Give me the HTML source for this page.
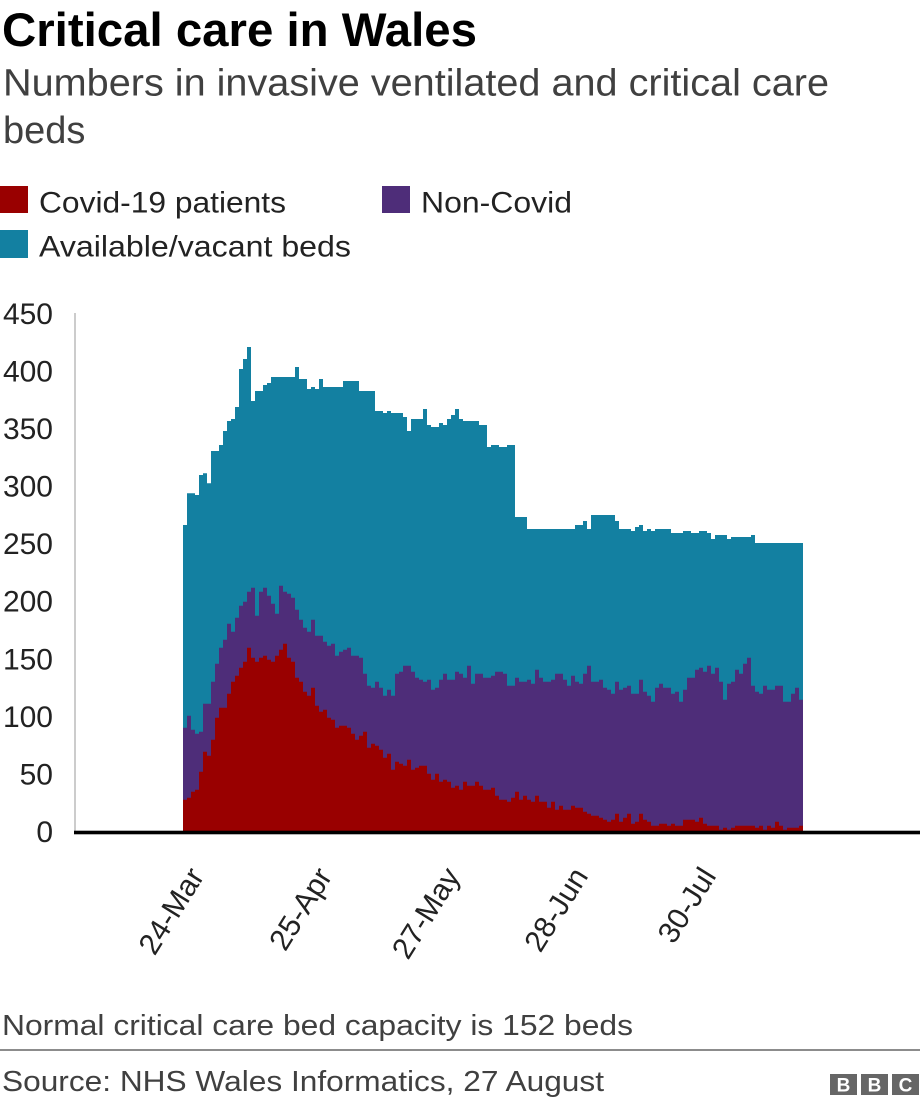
<!DOCTYPE html>
<html>
<head>
<meta charset="utf-8">
<style>
  html,body{margin:0;padding:0;background:#fff;}
  svg{display:block;}
  text{font-family:"Liberation Sans", Arial, sans-serif;}
</style>
</head>
<body>
<svg width="920" height="1106" viewBox="0 0 920 1106" xmlns="http://www.w3.org/2000/svg">
  <rect x="0" y="0" width="920" height="1106" fill="#ffffff"/>

  <!-- Title & subtitle -->
  <text x="2" y="46" font-size="47" font-weight="bold" fill="#000" textLength="475" lengthAdjust="spacingAndGlyphs">Critical care in Wales</text>
  <text x="3" y="95.5" font-size="38" fill="#404040" textLength="826" lengthAdjust="spacingAndGlyphs">Numbers in invasive ventilated and critical care</text>
  <text x="3" y="143" font-size="38" fill="#404040">beds</text>

  <!-- Legend -->
  <rect x="0" y="186" width="28" height="27" fill="#990000"/>
  <text x="39" y="212.5" font-size="30" fill="#222" textLength="247" lengthAdjust="spacingAndGlyphs">Covid-19 patients</text>
  <rect x="382" y="186" width="28" height="27" fill="#4e2d79"/>
  <text x="421" y="212.5" font-size="30" fill="#222" textLength="151" lengthAdjust="spacingAndGlyphs">Non-Covid</text>
  <rect x="0" y="230" width="28" height="28" fill="#1380a1"/>
  <text x="39" y="256.7" font-size="30" fill="#222" textLength="312" lengthAdjust="spacingAndGlyphs">Available/vacant beds</text>

  <!-- Y axis labels -->
  <g font-size="30" fill="#222" text-anchor="end">
    <text x="53" y="842">0</text>
    <text x="53" y="784.4">50</text>
    <text x="53" y="726.8">100</text>
    <text x="53" y="669.3">150</text>
    <text x="53" y="611.7">200</text>
    <text x="53" y="554.1">250</text>
    <text x="53" y="496.5">300</text>
    <text x="53" y="438.9">350</text>
    <text x="53" y="381.4">400</text>
    <text x="53" y="323.8">450</text>
  </g>

  <!-- vertical axis line -->
  <rect x="74" y="313" width="2" height="518" fill="#cccccc"/>

  <!-- Teal: total -->
  <path fill="#1380a1" d="M183,831 V525 H187 V493.3 H191 V493.3 H195 V495 H199 V475 H203 V473.3 H207 V483.3 H211 V451 H215 V451 H219 V445 H223 V431 H227 V421 H231 V419 H235 V407 H239 V369 H243 V359 H247 V347 H251 V401 H255 V391 H259 V391 H263 V385 H267 V383 H271 V377 H295 V367 H299 V379 H303 V379 H307 V389 H311 V387 H315 V389 H319 V379 H323 V387 H343 V381 H359 V391 H375 V411 H383 V413 H387 V411 H391 V413 H403 V417 H407 V431 H411 V419 H423 V409 H427 V425 H431 V427 H439 V423 H443 V425 H447 V419 H451 V415 H455 V409 H459 V419 H463 V421 H479 V425 H487 V447 H491 V445 H499 V447 H507 V445 H515 V517 H527 V529 H575 V525 H583 V521 H587 V529 H591 V515 H615 V521 H619 V529 H631 V531 H635 V527 H639 V525 H643 V531 H647 V529 H651 V531 H655 V529 H671 V533 H683 V531 H691 V533 H699 V531 H707 V533 H711 V539 H715 V535 H727 V539 H731 V537 H751 V535 H755 V543 H803 V831 Z"/>

  <!-- Purple: non-covid + covid -->
  <path fill="#4e2d79" d="M183,831 V727.7 H187 V715.7 H191 V729.7 H195 V733.7 H199 V731.7 H203 V703.7 H211 V681.7 H215 V663.7 H219 V647.7 H223 V639.7 H227 V623.7 H231 V631.7 H235 V617.7 H239 V605.7 H243 V601.7 H247 V591.7 H251 V587.7 H255 V615.7 H259 V591.7 H263 V587.7 H267 V595.7 H271 V603.7 H275 V613.7 H279 V585.7 H283 V591.7 H287 V593.7 H291 V597.7 H295 V609.7 H299 V619.7 H303 V627.7 H307 V631.7 H311 V619.7 H315 V635.7 H323 V641.7 H327 V645.7 H331 V643.7 H335 V655.7 H339 V651.7 H343 V649.7 H347 V647.7 H351 V655.7 H359 V657.7 H363 V673.7 H367 V685.7 H371 V687.7 H375 V681.7 H379 V687.7 H383 V695.7 H387 V689.7 H391 V695.7 H395 V673.7 H399 V671.7 H403 V665.7 H411 V671.7 H415 V677.7 H419 V679.7 H423 V681.7 H427 V679.7 H431 V689.7 H435 V687.7 H439 V679.7 H443 V673.7 H447 V679.7 H455 V671.7 H459 V673.7 H463 V677.7 H467 V665.7 H471 V683.7 H475 V673.7 H483 V677.7 H491 V675.7 H495 V671.7 H503 V673.7 H507 V685.7 H515 V677.7 H519 V681.7 H527 V679.7 H531 V683.7 H535 V669.7 H539 V677.7 H543 V681.7 H551 V679.7 H555 V673.7 H563 V679.7 H567 V685.7 H571 V675.7 H575 V681.7 H579 V683.7 H583 V673.7 H587 V665.7 H591 V681.7 H599 V679.7 H603 V687.7 H607 V689.7 H611 V693.7 H615 V681.7 H619 V689.7 H623 V687.7 H627 V685.7 H631 V693.7 H639 V679.7 H643 V691.7 H647 V695.7 H651 V701.7 H655 V687.7 H659 V683.7 H663 V687.7 H671 V693.7 H675 V691.7 H679 V701.7 H683 V689.7 H687 V677.7 H695 V669.7 H699 V667.7 H703 V671.7 H707 V665.7 H711 V673.7 H715 V667.7 H719 V681.7 H723 V699.7 H727 V683.7 H731 V681.7 H735 V669.7 H739 V673.7 H743 V663.7 H747 V657.7 H751 V685.7 H755 V691.7 H759 V693.7 H763 V685.7 H767 V689.7 H775 V685.7 H783 V701.7 H791 V693.7 H795 V687.7 H799 V699.7 H803 V831 Z"/>

  <!-- Red: covid -->
  <path fill="#990000" d="M183,831 V799.7 H187 V797.7 H191 V791.7 H195 V789.7 H199 V771.7 H203 V751.7 H207 V755.7 H211 V739.7 H215 V717.7 H219 V707.7 H227 V693.7 H231 V681.7 H235 V675.7 H239 V667.7 H243 V661.7 H247 V647.7 H251 V657.7 H255 V661.7 H259 V657.7 H263 V655.7 H267 V659.7 H271 V661.7 H275 V655.7 H279 V649.7 H283 V643.7 H287 V657.7 H291 V661.7 H295 V677.7 H299 V681.7 H303 V691.7 H307 V695.7 H311 V687.7 H315 V705.7 H319 V711.7 H323 V709.7 H327 V717.7 H331 V719.7 H335 V727.7 H339 V725.7 H347 V727.7 H351 V733.7 H355 V739.7 H359 V735.7 H363 V731.7 H367 V747.7 H371 V743.7 H375 V745.7 H379 V749.7 H383 V757.7 H387 V753.7 H391 V769.7 H395 V761.7 H399 V763.7 H403 V765.7 H407 V759.7 H411 V769.7 H415 V767.7 H419 V765.7 H427 V773.7 H431 V779.7 H435 V773.7 H439 V781.7 H443 V779.7 H447 V781.7 H451 V787.7 H455 V785.7 H459 V789.7 H463 V781.7 H467 V785.7 H475 V781.7 H479 V785.7 H483 V789.7 H491 V787.7 H495 V795.7 H499 V799.7 H507 V801.7 H511 V797.7 H515 V791.7 H519 V799.7 H523 V795.7 H527 V799.7 H531 V801.7 H535 V795.7 H539 V801.7 H547 V807.7 H551 V801.7 H555 V809.7 H559 V805.7 H563 V809.7 H571 V805.7 H575 V807.7 H583 V811.7 H587 V813.7 H591 V815.7 H599 V817.7 H603 V819.7 H607 V821.7 H611 V819.7 H615 V813.7 H619 V821.7 H623 V817.7 H627 V813.7 H631 V823.7 H635 V821.7 H639 V813.7 H643 V819.7 H647 V821.7 H651 V825.7 H659 V823.7 H667 V825.7 H671 V823.7 H675 V825.7 H683 V819.7 H695 V821.7 H699 V817.7 H703 V823.7 H707 V825.7 H719 V829.7 H723 V827.7 H727 V829.7 H731 V827.7 H735 V825.7 H755 V827.7 H759 V825.7 H763 V829.7 H767 V825.7 H771 V827.7 H775 V821.7 H779 V825.7 H783 V829.7 H787 V827.7 H799 V825.7 H803 V831 Z"/>

  <!-- baseline -->
  <rect x="74" y="830.7" width="846" height="3.6" fill="#000"/>

  <!-- X axis labels -->
  <g font-size="30" fill="#222" text-anchor="end">
    <text transform="translate(205,876) rotate(-58)">24-Mar</text>
    <text transform="translate(333,876) rotate(-58)">25-Apr</text>
    <text transform="translate(461,876) rotate(-58)">27-May</text>
    <text transform="translate(589,876) rotate(-58)">28-Jun</text>
    <text transform="translate(717,876) rotate(-58)">30-Jul</text>
  </g>

  <!-- Footer -->
  <text x="2" y="1035" font-size="29" fill="#404040" textLength="631" lengthAdjust="spacingAndGlyphs">Normal critical care bed capacity is 152 beds</text>
  <rect x="0" y="1049" width="920" height="2" fill="#8c8c8c"/>
  <text x="2" y="1091" font-size="29" fill="#404040" textLength="602" lengthAdjust="spacingAndGlyphs">Source: NHS Wales Informatics, 27 August</text>

  <!-- BBC logo -->
  <g>
    <rect x="830" y="1074" width="27" height="21" fill="#666"/>
    <rect x="861" y="1074" width="27" height="21" fill="#666"/>
    <rect x="892" y="1074" width="27" height="21" fill="#666"/>
    <g font-size="19" font-weight="bold" fill="#fff" text-anchor="middle">
      <text x="843.5" y="1091.5">B</text>
      <text x="874.5" y="1091.5">B</text>
      <text x="905.5" y="1091.5">C</text>
    </g>
  </g>
</svg>
</body>
</html>
